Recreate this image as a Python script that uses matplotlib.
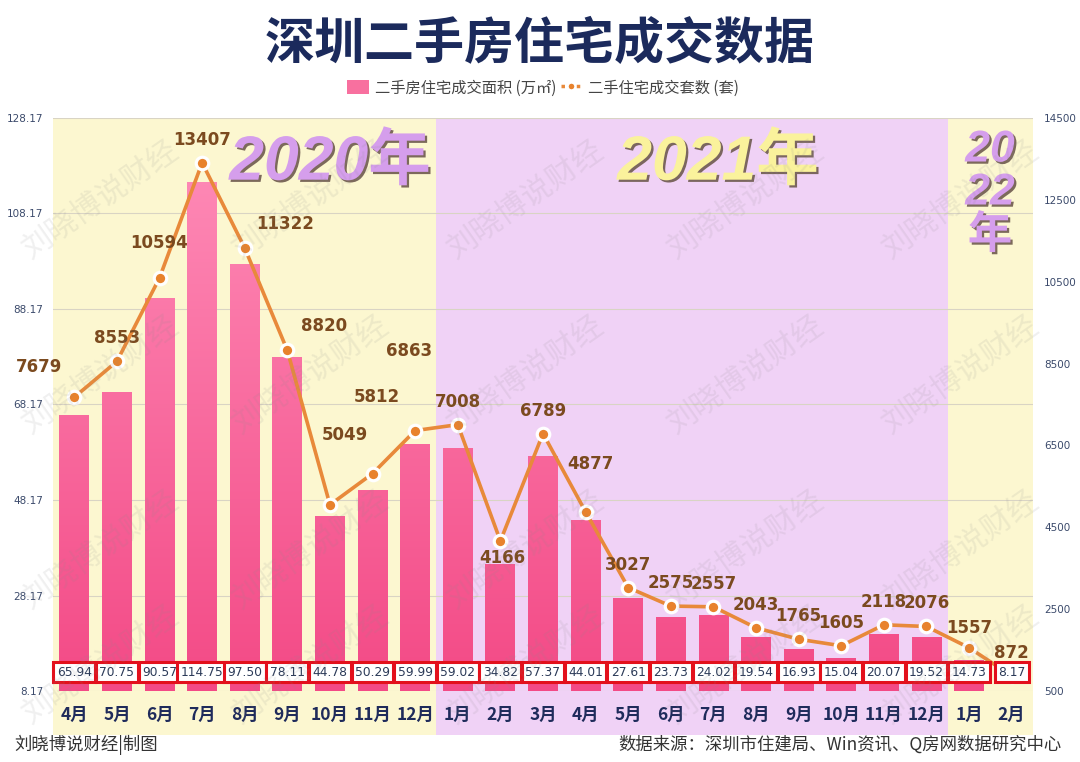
import numpy as np
import matplotlib
matplotlib.use("Agg")
import matplotlib.pyplot as plt
import matplotlib.transforms as mtransforms
import matplotlib.patheffects as pe
from matplotlib.patches import Rectangle, Patch
from matplotlib.lines import Line2D
from matplotlib.colors import LinearSegmentedColormap

plt.rcParams['font.family'] = ['Noto Sans CJK SC', 'DejaVu Sans']

# ---------------- data ----------------
months = ['4月', '5月', '6月', '7月', '8月', '9月', '10月', '11月', '12月',
          '1月', '2月', '3月', '4月', '5月', '6月', '7月', '8月', '9月', '10月', '11月', '12月',
          '1月', '2月']
area = [65.94, 70.75, 90.57, 114.75, 97.50, 78.11, 44.78, 50.29, 59.99,
        59.02, 34.82, 57.37, 44.01, 27.61, 23.73, 24.02, 19.54, 16.93, 15.04, 20.07, 19.52,
        14.73, 8.17]
units = [7679, 8553, 10594, 13407, 11322, 8820, 5049, 5812, 6863,
         7008, 4166, 6789, 4877, 3027, 2575, 2557, 2043, 1765, 1605, 2118, 2076,
         1557, 872]
left_ticks = [8.17, 28.17, 48.17, 68.17, 88.17, 108.17, 128.17]
right_ticks = [500, 2500, 4500, 6500, 8500, 10500, 12500, 14500]
year_first = [0, 9, 21]
year_last = [8, 20, 22]

title = '深圳二手房住宅成交数据'
legend_bar = '二手房住宅成交面积 (万㎡)'
legend_line = '二手住宅成交套数 (套)'
footer_left = '刘晓博说财经|制图'
footer_right = '数据来源：深圳市住建局、Win资讯、Q房网数据研究中心'
watermark = '刘晓博说财经'

# ---------------- styles ----------------
YELLOW = '#FCF7D0'
PURPLE = '#F0D2F6'
NAVY = '#1B2A5C'
TICK = '#3B4A6B'
ORANGE = '#E8893A'
BROWN = '#7B4A1F'
RED = '#E3101C'

W, H = 1080, 762
fig = plt.figure(figsize=(W / 100, H / 100), dpi=100)
fig.patch.set_facecolor('white')

ax = fig.add_axes([53 / W, 1 - 691 / H, 980 / W, 573 / H])
ax.patch.set_visible(False)
for s in ax.spines.values():
    s.set_visible(False)

x = np.arange(len(months))
ymin, ymax = left_ticks[0], left_ticks[-1]

# background year bands
bt = mtransforms.blended_transform_factory(ax.transData, ax.transAxes)
for k, (a, b) in enumerate(zip(year_first, year_last)):
    col = PURPLE if k == 1 else YELLOW
    ax.add_patch(Rectangle((a - 0.5, -0.077), b - a + 1, 1.077, transform=bt,
                           facecolor=col, edgecolor='none', zorder=0, clip_on=False))

# bars with gradient
bars = ax.bar(x, [v - ymin for v in area], bottom=ymin, width=0.7,
              color='#F8709F', linewidth=0, zorder=2)
cmap = LinearSegmentedColormap.from_list('pk', ['#F34A86', '#FF8FBA'])
grad = np.linspace(0, 1, 256).reshape(-1, 1)
for b in bars:
    x0, y0 = b.get_xy()
    w, h = b.get_width(), b.get_height()
    if h <= 0:
        continue
    im = ax.imshow(grad, extent=[x0, x0 + w, ymin, ymax], origin='lower',
                   cmap=cmap, aspect='auto', zorder=2.1)
    im.set_clip_path(b)

ax.set_xlim(-0.5, len(months) - 0.5)
ax.set_ylim(ymin, ymax)
ax.set_yticks(left_ticks)
ax.set_yticklabels([f'{t:.2f}' for t in left_ticks])
ax.tick_params(axis='y', length=0, pad=7, labelsize=7.5, labelcolor=TICK)
for lab in ax.get_yticklabels():
    lab.set_family('DejaVu Sans')
ax.yaxis.grid(True, color='#D9D4C4', lw=0.8)
ax.set_axisbelow(True)
ax.set_xticks(x)
ax.set_xticklabels(months)
ax.tick_params(axis='x', length=0, pad=11, labelsize=12.5, labelcolor='#1F2B5B')
for lab in ax.get_xticklabels():
    lab.set_fontweight('bold')

# line on secondary axis
ax2 = ax.twinx()
ax2.patch.set_visible(False)
for s in ax2.spines.values():
    s.set_visible(False)
ax2.set_ylim(right_ticks[0], right_ticks[-1])
ax2.set_yticks(right_ticks)
ax2.set_yticklabels([str(t) for t in right_ticks])
ax2.tick_params(axis='y', length=0, pad=8, labelsize=7.5, labelcolor=TICK)
for lab in ax2.get_yticklabels():
    lab.set_family('DejaVu Sans')
ax2.plot(x, units, color=ORANGE, lw=2.6, marker='o', ms=9, mfc='#E8822C',
         mec='white', mew=2.3, zorder=3)

# label offsets in pixels (dx, dy) ; dy negative = up
offsets = {0: (-35, -30), 2: (0, -35), 3: (0, -23), 4: (40, -24), 5: (37, -24),
           6: (15, -70), 7: (4, -77), 8: (-6, -80), 10: (2, 17), 12: (5, -48),
           21: (0, -20)}
for i, v in enumerate(units):
    dx, dy = offsets.get(i, (0, -23))
    ax2.annotate(str(v), (i, v), xytext=(dx * 0.72, -dy * 0.72), textcoords='offset points',
                 ha='center', va='center', fontsize=12, fontweight='bold', color=BROWN,
                 family='DejaVu Sans', zorder=6)

# value boxes
bt2 = mtransforms.blended_transform_factory(ax2.transData, ax2.transAxes)
for i, v in enumerate(area):
    ax2.text(i, 0.033, f'{v:.2f}', transform=bt2, ha='center', va='center',
             fontsize=8.8, color='#2B3A58', family='DejaVu Sans', zorder=10,
             bbox=dict(boxstyle='square,pad=0.28', fc='white', ec=RED, lw=2.2))

# year labels
shadow = [pe.withSimplePatchShadow(offset=(1.6, -1.6), shadow_rgbFace='#6E5A4E', alpha=0.9)]
yfam = ['Liberation Sans', 'Noto Sans CJK SC']
fig.text(330 / W, 1 - 163 / H, '2020年', ha='center', va='center', fontsize=45,
         fontweight='bold', style='italic', color='#D59EEC',
         family=yfam, path_effects=shadow, zorder=5)
fig.text(718 / W, 1 - 163 / H, '2021年', ha='center', va='center', fontsize=45,
         fontweight='bold', style='italic', color='#FAF29C',
         family=yfam, path_effects=shadow, zorder=5)
for s, yy in zip(['20', '22', '年'], [150, 193, 236]):
    fig.text(990 / W, 1 - yy / H, s, ha='center', va='center', fontsize=32,
             fontweight='bold', style='italic', color='#D59EEC',
             family=yfam, path_effects=shadow, zorder=5)

# title
fig.text(0.5, 1 - 45 / H, title, ha='center', va='center', fontsize=36,
         fontweight='heavy', color=NAVY)

# legend
handles = [Patch(facecolor='#F8709F', edgecolor='none'),
           Line2D([0], [0], color=ORANGE, lw=2.5, ls=(0, (1, 1.2)), marker='o', ms=5,
                  mfc='#E8822C', mec='white', mew=1)]
fig.legend(handles, [legend_bar, legend_line], loc='center', bbox_to_anchor=(0.503, 1 - 88 / H),
           ncol=2, frameon=False, fontsize=11, handlelength=1.4, handleheight=1.0,
           handletextpad=0.4, columnspacing=0.3, labelcolor='#444444')

# footer
fig.text(14 / W, 1 - 745 / H, footer_left, ha='left', va='center', fontsize=12.5, color='#333333')
fig.text(1062 / W, 1 - 745 / H, footer_right, ha='right', va='center', fontsize=12.5, color='#333333')

# watermarks
for cx in [100, 310, 525, 745, 960]:
    for cy in [200, 375, 550, 665]:
        fig.text(cx / W, 1 - cy / H, watermark, ha='center', va='center', fontsize=22,
                 rotation=35, color='#8A8A8A', alpha=0.13, zorder=20)

fig.savefig('out.png', dpi=100)
